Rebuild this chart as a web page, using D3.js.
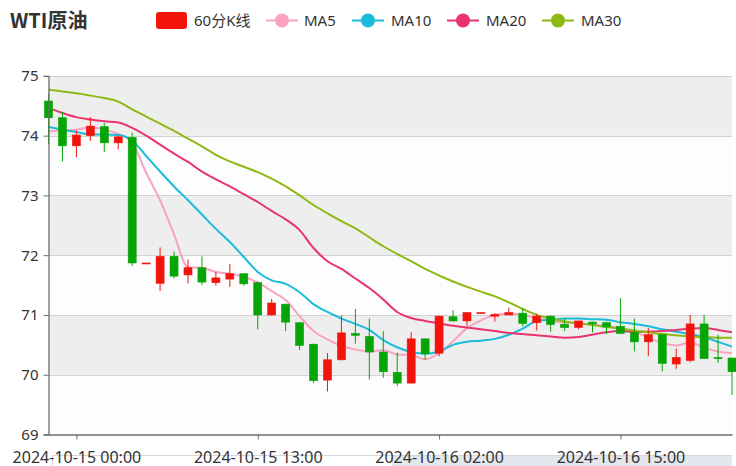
<!DOCTYPE html>
<html>
<head>
<meta charset="utf-8">
<script src="https://cdn.jsdelivr.net/npm/d3@7"></script>
<style>
  html, body { margin: 0; padding: 0; background: #ffffff; }
  svg { display: block; }
  text { font-family: "Noto Sans", "Noto Sans CJK SC", sans-serif; }
</style>
</head>
<body>
<svg id="chart" width="736" height="466"></svg>
<script>
// ---------- DATA ----------
const title = "WTI原油";
const seriesNames = ["60分K线", "MA5", "MA10", "MA20", "MA30"];

// hourly categories, 2024-10-14 22:00 .. 2024-10-16 23:00
const categories = [
  "2024-10-14 22:00","2024-10-14 23:00",
  "2024-10-15 00:00","2024-10-15 01:00","2024-10-15 02:00","2024-10-15 03:00","2024-10-15 04:00","2024-10-15 05:00",
  "2024-10-15 06:00","2024-10-15 07:00","2024-10-15 08:00","2024-10-15 09:00","2024-10-15 10:00","2024-10-15 11:00",
  "2024-10-15 12:00","2024-10-15 13:00","2024-10-15 14:00","2024-10-15 15:00","2024-10-15 16:00","2024-10-15 17:00",
  "2024-10-15 18:00","2024-10-15 19:00","2024-10-15 20:00","2024-10-15 21:00","2024-10-15 22:00","2024-10-15 23:00",
  "2024-10-16 00:00","2024-10-16 01:00","2024-10-16 02:00","2024-10-16 03:00","2024-10-16 04:00","2024-10-16 05:00",
  "2024-10-16 06:00","2024-10-16 07:00","2024-10-16 08:00","2024-10-16 09:00","2024-10-16 10:00","2024-10-16 11:00",
  "2024-10-16 12:00","2024-10-16 13:00","2024-10-16 14:00","2024-10-16 15:00","2024-10-16 16:00","2024-10-16 17:00",
  "2024-10-16 18:00","2024-10-16 19:00","2024-10-16 20:00","2024-10-16 21:00","2024-10-16 22:00","2024-10-16 23:00"
];

const open  = [74.58,74.30,73.83,74.00,74.15,73.88,73.97,71.86,71.53,71.98,71.67,71.79,71.54,71.60,71.69,71.54,71.00,71.18,70.87,70.51,
               69.91,70.25,70.69,70.64,70.38,70.04,69.86,70.60,70.36,70.97,70.90,71.03,70.98,71.00,71.03,70.87,70.98,70.84,70.79,70.88,
               70.87,70.81,70.71,70.55,70.67,70.18,70.24,70.85,70.29,70.28];
const close = [74.30,73.83,74.01,74.16,73.88,73.98,71.87,71.87,71.98,71.65,71.79,71.55,71.62,71.69,71.52,71.00,71.20,70.88,70.49,69.90,
               70.25,70.70,70.66,70.38,70.05,69.86,70.60,70.35,70.98,70.90,71.04,71.04,71.01,71.04,70.86,70.98,70.84,70.79,70.90,70.85,
               70.80,70.69,70.55,70.67,70.19,70.29,70.85,70.27,70.27,70.05];
const low   = [73.86,73.57,73.64,73.91,73.73,73.77,71.82,71.86,71.40,71.61,71.53,71.50,71.49,71.47,71.49,70.76,70.99,70.73,70.41,69.86,
               69.72,70.24,70.52,69.92,69.95,69.81,69.86,70.25,70.31,70.89,70.82,71.03,70.89,71.00,70.81,70.74,70.72,70.73,70.76,70.71,
               70.68,70.69,70.39,70.31,70.06,70.10,70.21,70.27,70.20,69.66];
const high  = [74.70,74.40,74.08,74.31,74.21,74.00,74.05,71.87,72.13,72.06,71.93,71.98,71.72,71.85,71.70,71.56,71.27,71.19,70.88,70.52,
               70.36,70.99,71.10,70.94,70.73,70.37,70.71,70.61,70.99,71.08,71.05,71.04,71.03,71.12,71.11,71.02,70.99,70.94,70.90,70.89,
               70.89,71.28,70.94,70.78,70.67,70.44,71.00,71.00,70.67,70.28];

const ma5  = [74.07,74.09,74.10,74.14,74.10,74.03,73.88,73.38,72.92,72.35,71.80,71.79,71.72,71.69,71.64,71.54,71.40,71.25,70.98,70.73,
              70.59,70.48,70.42,70.39,70.41,70.34,70.33,70.26,70.36,70.56,70.78,70.91,71.00,71.02,71.00,70.95,70.90,70.87,70.86,70.84,
              70.82,70.78,70.72,70.62,70.53,70.49,70.54,70.45,70.39,70.36];
const ma10 = [74.15,74.10,74.06,74.02,74.02,74.01,73.92,73.66,73.40,73.15,72.92,72.68,72.44,72.22,71.97,71.72,71.58,71.52,71.38,71.18,
              71.05,70.94,70.85,70.75,70.58,70.46,70.38,70.35,70.39,70.50,70.55,70.57,70.60,70.67,70.77,70.90,70.92,70.94,70.94,70.93,
              70.92,70.88,70.85,70.81,70.76,70.72,70.68,70.63,70.55,70.47];
const ma20 = [74.46,74.38,74.31,74.27,74.24,74.22,74.13,74.00,73.85,73.70,73.56,73.40,73.27,73.15,73.02,72.89,72.74,72.60,72.42,72.12,
              71.90,71.77,71.61,71.45,71.26,71.05,70.95,70.90,70.86,70.82,70.79,70.76,70.73,70.70,70.68,70.66,70.64,70.62,70.63,70.67,
              70.71,70.73,70.72,70.72,70.73,70.75,70.77,70.78,70.75,70.71];
const ma30 = [74.77,74.74,74.71,74.67,74.63,74.57,74.44,74.32,74.20,74.08,73.95,73.82,73.68,73.57,73.48,73.39,73.28,73.15,73.00,72.84,
              72.70,72.57,72.45,72.30,72.15,72.02,71.90,71.77,71.66,71.56,71.47,71.39,71.31,71.21,71.10,71.00,70.94,70.89,70.86,70.83,
              70.80,70.77,70.74,70.71,70.68,70.66,70.64,70.63,70.62,70.62];

const yTicks = [69, 70, 71, 72, 73, 74, 75];
const xTickCats = ["2024-10-15 00:00","2024-10-15 13:00","2024-10-16 02:00","2024-10-16 15:00"];

// ---------- STYLE ----------
const upColor = "#f2140c", downColor = "#05a505";
const maColors = ["#f9a2c0", "#1abcdc", "#e9336e", "#8dba12"];
const textColor = "#333333";

// ---------- LAYOUT ----------
const svg = d3.select("#chart");
const plotL = 48.5, plotR = 732, plotT = 75.9, plotB = 434.5;

const x = d3.scalePoint().domain(categories).range([plotL, plotR]);
const y = d3.scaleLinear().domain([69, 75]).range([plotB, plotT]);

// split areas
const bands = d3.pairs(yTicks);
svg.append("g").selectAll("rect").data(bands).join("rect")
  .attr("x", plotL).attr("width", plotR - plotL)
  .attr("y", d => y(d[1])).attr("height", d => y(d[0]) - y(d[1]))
  .attr("fill", (d, i) => i % 2 === 0 ? "#fdfdfd" : "#eeeeee");

// split lines
svg.append("g").selectAll("line").data(yTicks.slice(1)).join("line")
  .attr("x1", plotL).attr("x2", plotR)
  .attr("y1", d => Math.round(y(d)) + 0.5).attr("y2", d => Math.round(y(d)) + 0.5)
  .attr("stroke", "#d2d2d2").attr("stroke-width", 1);

// MA lines
const maSeries = [ma5, ma10, ma20, ma30];
const lineGen = d3.line().x((d, i) => x(categories[i])).y(d => y(d)).curve(d3.curveMonotoneX);
maSeries.forEach((s, k) => {
  svg.append("path").datum(s).attr("d", lineGen)
    .attr("fill", "none").attr("stroke", maColors[k]).attr("stroke-width", 2);
});

// candles
const candles = categories.map((c, i) => ({ c, o: open[i], cl: close[i], l: low[i], h: high[i] }));
const bw = 8;
const cg = svg.append("g");
cg.selectAll("line").data(candles).join("line")
  .attr("x1", d => x(d.c)).attr("x2", d => x(d.c))
  .attr("y1", d => y(d.h)).attr("y2", d => y(d.l))
  .attr("stroke", d => d.cl >= d.o ? upColor : downColor).attr("stroke-width", 1);
cg.selectAll("rect").data(candles).join("rect")
  .attr("x", d => x(d.c) - bw / 2).attr("width", bw)
  .attr("y", d => y(Math.max(d.o, d.cl)))
  .attr("height", d => Math.max(1, Math.abs(y(d.o) - y(d.cl))))
  .attr("fill", d => d.cl >= d.o ? upColor : downColor)
  .attr("stroke", d => d.cl >= d.o ? upColor : downColor).attr("stroke-width", 0.6);

// bottom slider (partially visible)
svg.append("rect").attr("x", 52.5).attr("y", 455.5).attr("width", 679).attr("height", 30)
  .attr("fill", "none").attr("stroke", "#d8d8d8");
svg.append("rect").attr("x", 392).attr("y", 456).attr("width", 340).attr("height", 30)
  .attr("fill", "#e3e7ee");

// axes
const yAxis = d3.axisLeft(y).tickValues(yTicks).tickSize(5).tickPadding(5).tickFormat(d3.format("d"));
const gy = svg.append("g").attr("transform", `translate(${plotL},0)`).call(yAxis);
gy.select(".domain").attr("stroke", "#6e6e6e").attr("stroke-width", 1.3);
gy.selectAll(".tick line").attr("stroke", "#6e6e6e");
gy.selectAll(".tick text").attr("fill", textColor).style("font-size", "15px")
  .style("font-family", "'Noto Sans', sans-serif");

const xAxis = d3.axisBottom(x).tickValues(xTickCats).tickSize(5).tickPadding(12).tickSizeOuter(0);
const gx = svg.append("g").attr("transform", `translate(0,${plotB})`).call(xAxis);
gx.select(".domain").attr("stroke", "#6e6e6e").attr("stroke-width", 1.3);
gx.selectAll(".tick line").attr("stroke", "#6e6e6e");
gx.selectAll(".tick text").attr("fill", textColor).style("font-size", "16px")
  .style("font-family", "'Noto Sans', sans-serif");

// title
svg.append("text").attr("x", 10).attr("y", 28).text(title)
  .attr("fill", textColor).style("font-size", "20px").style("font-weight", "bold")
  .style("font-family", "'Noto Sans CJK SC', sans-serif");

// legend
const lg = svg.append("g");
lg.append("rect").attr("x", 156).attr("y", 12).attr("width", 31).attr("height", 17).attr("rx", 3)
  .attr("fill", upColor);
lg.append("text").attr("x", 194).attr("y", 26).text(seriesNames[0])
  .attr("fill", textColor).style("font-size", "15px");
const legendX = [266, 352, 447, 542];
const legendTextX = [304, 391, 486, 581];
maColors.forEach((c, k) => {
  lg.append("line").attr("x1", legendX[k]).attr("x2", legendX[k] + 32)
    .attr("y1", 20.5).attr("y2", 20.5).attr("stroke", c).attr("stroke-width", 2);
  lg.append("circle").attr("cx", legendX[k] + 16).attr("cy", 20.5).attr("r", 7).attr("fill", c);
  lg.append("text").attr("x", legendTextX[k]).attr("y", 26).text(seriesNames[k + 1])
    .attr("fill", textColor).style("font-size", "15px");
});
</script>
</body>
</html>
